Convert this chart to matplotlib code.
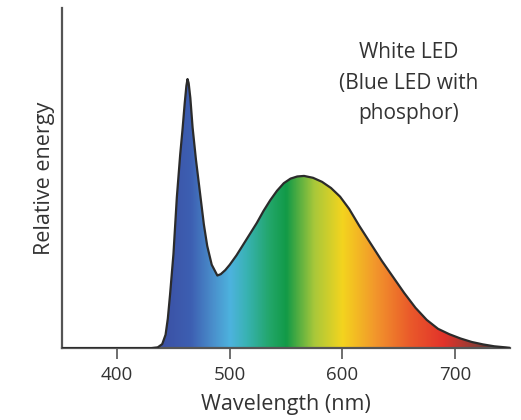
import numpy as np
import matplotlib.pyplot as plt
from matplotlib.colors import LinearSegmentedColormap

# Emission spectrum of a phosphor-converted white LED (blue peak = 100)
wavelength = [350, 430, 436, 440, 443, 445, 447, 450, 453, 456, 458, 460, 461.5,
              462.5, 463.5, 465, 467, 470, 473.5, 477, 480, 484, 489, 492, 496,
              500, 506, 512, 518, 524, 530, 536, 542, 548, 554, 560, 566, 574,
              582, 590, 598, 606, 615, 625, 635, 645, 655, 665, 675, 685, 695,
              705, 715, 725, 735, 745, 749]
energy = [0, 0, 0.3, 1.5, 5, 11, 20, 35, 56, 72, 81, 91, 97.5,
          100, 98.5, 93, 82, 70, 58, 46, 38, 31, 27, 27.5, 29,
          31, 34.5, 38.5, 42.5, 46.5, 51, 55, 58.5, 61.3, 63, 63.8, 64, 63.3,
          61.8, 59.5, 56.3, 51.8, 45.5, 39, 32.5, 26.5, 20.5, 15, 10.5, 7.2, 5.2,
          3.6, 2.3, 1.4, 0.7, 0.3, 0.1]

xticks = [400, 500, 600, 700]
label_text = "White LED\n(Blue LED with\nphosphor)"

# spectrum colours at given wavelengths (nm)
color_nm = [437, 465, 485, 500, 515, 535, 550, 575, 600, 630, 660, 690, 720, 745]
color_hex = ["#3b4fa3", "#3d5fb2", "#4a90cc", "#4db3de", "#38b2b2", "#22a66a",
             "#129a47", "#a9c83a", "#f4d41e", "#f2952c", "#ea5a2a", "#e2332a",
             "#8c3d36", "#2a2424"]
lo, hi = color_nm[0], color_nm[-1]
spectrum = LinearSegmentedColormap.from_list(
    "spectrum", [((w - lo) / (hi - lo), c) for w, c in zip(color_nm, color_hex)])

fig = plt.figure(figsize=(5.21, 4.2), dpi=100)
ax = fig.add_axes([0.119, 0.171, 0.860, 0.810])

x = np.array(wavelength, dtype=float)
y = np.array(energy, dtype=float)
ymax = 126.4

fill = ax.fill_between(x, 0, y, color="none", lw=0)
grad = np.linspace(0, 1, 512).reshape(1, -1)
img = ax.imshow(grad, cmap=spectrum, aspect="auto",
                extent=[lo, hi, 0, ymax], origin="lower", zorder=1)
img.set_clip_path(fill.get_paths()[0], transform=ax.transData)

ax.plot(x, y, color="#2b2b2b", lw=1.6, zorder=3, solid_joinstyle="round")

ax.set_xlim(351, 749)
ax.set_ylim(0, ymax)

font = "Open Sans"
txt_color = "#333333"
ax.set_xticks(xticks)
ax.set_xticklabels([str(t) for t in xticks], fontsize=13.5, family=font,
                   color=txt_color)
ax.set_yticks([])
ax.tick_params(axis="x", direction="out", length=8, width=1.2,
               color="#555555", pad=5)

for side in ["top", "right"]:
    ax.spines[side].set_visible(False)
for side in ["left", "bottom"]:
    ax.spines[side].set_color("#555555")
    ax.spines[side].set_linewidth(1.6)

ax.set_xlabel("Wavelength (nm)", fontsize=15.5, family=font, color=txt_color,
              labelpad=7)
ax.set_ylabel("Relative energy", fontsize=15.5, family=font, color=txt_color,
              labelpad=5)

ax.text(659, 98.5, label_text, ha="center", va="center", fontsize=15,
        family=font, color=txt_color, linespacing=1.6)

fig.savefig("out.png", dpi=100)
